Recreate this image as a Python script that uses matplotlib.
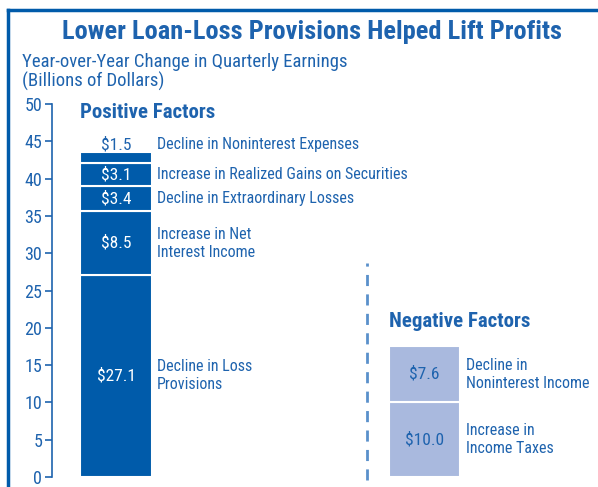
import matplotlib
matplotlib.use("Agg")
import matplotlib.pyplot as plt
from matplotlib.lines import Line2D

plt.rcParams['font.family'] = ['Roboto Condensed', 'Archivo Narrow', 'DejaVu Sans']

# Data
pos_labels = ["Decline in Loss\nProvisions", "Increase in Net\nInterest Income",
              "Decline in Extraordinary Losses", "Increase in Realized Gains on Securities",
              "Decline in Noninterest Expenses"]
pos_values = [27.1, 8.5, 3.4, 3.1, 1.5]
neg_labels = ["Increase in\nIncome Taxes", "Decline in\nNoninterest Income"]
neg_values = [10.0, 7.6]
yticks = [0, 5, 10, 15, 20, 25, 30, 35, 40, 45, 50]

DARK = '#005BAA'
LIGHT = '#A9B9DE'
TXT = '#1E63AE'

W, H = 598, 487
fig = plt.figure(figsize=(W / 100, H / 100), dpi=100)
ax = fig.add_axes([52 / W, 10 / H, (W - 52) / W, 373 / H])
ax.set_ylim(0, 50)
ax.set_xlim(-0.2075, 1.5624)
for s in ['top', 'right', 'bottom']:
    ax.spines[s].set_visible(False)
ax.spines['left'].set_color(TXT)
ax.spines['left'].set_linewidth(1.2)
ax.set_xticks([])
ax.set_yticks(yticks)
ax.tick_params(axis='y', colors=TXT, labelsize=13, length=5, width=1.2, direction='out', pad=2)

bw = 0.233
bottom = 0
for i, (lab, v) in enumerate(zip(pos_labels, pos_values)):
    ax.bar(0, v, bottom=bottom, width=bw, color=DARK, edgecolor='white', linewidth=1.5)
    mid = bottom + v / 2
    if i == len(pos_values) - 1:
        ax.text(0, bottom + v + 1.0, f"${v:.1f}", ha='center', va='center', color=TXT, fontsize=12.5)
        ax.text(0.133, bottom + v + 1.0, lab, ha='left', va='center', color=TXT, fontsize=11.5)
    else:
        ax.text(0, mid, f"${v:.1f}", ha='center', va='center', color='white', fontsize=12.5)
        ax.text(0.133, mid, lab, ha='left', va='center', color=TXT, fontsize=11.5, linespacing=1.25)
    bottom += v

bottom = 0
for lab, v in zip(neg_labels, neg_values):
    ax.bar(1, v, bottom=bottom, width=0.23, color=LIGHT, edgecolor='white', linewidth=1.5)
    mid = bottom + v / 2
    ax.text(1, mid, f"${v:.1f}", ha='center', va='center', color=TXT, fontsize=12.5)
    ax.text(1.1345, mid, lab, ha='left', va='center', color=TXT, fontsize=11.5, linespacing=1.25)
    bottom += v

ax.text(-0.1167, 48.8, "Positive Factors", ha='left', va='center', color=TXT, fontsize=15, fontweight='bold')
ax.text(0.885, 20.9, "Negative Factors", ha='left', va='center', color=TXT, fontsize=15, fontweight='bold')

ax.plot([0.814, 0.814], [-0.4, 28.7], color='#5A90CB', linewidth=2, linestyle=(0, (4, 3)), clip_on=False)

fig.text(312 / W, 1 - 32 / H, "Lower Loan-Loss Provisions Helped Lift Profits", ha='center', va='center',
         color=TXT, fontsize=19, fontweight='bold')
fig.text(22 / W, 1 - 62 / H, "Year-over-Year Change in Quarterly Earnings", ha='left', va='center',
         color=TXT, fontsize=13.5)
fig.text(22 / W, 1 - 81 / H, "(Billions of Dollars)", ha='left', va='center', color=TXT, fontsize=13.5)

fig.add_artist(Line2D([8 / W, 1], [1 - 9.5 / H, 1 - 9.5 / H], transform=fig.transFigure, color=DARK, linewidth=2.5))
fig.add_artist(Line2D([8 / W, 8 / W], [0, 1 - 9.5 / H], transform=fig.transFigure, color=DARK, linewidth=2.5))

fig.savefig("out.png", dpi=100)
